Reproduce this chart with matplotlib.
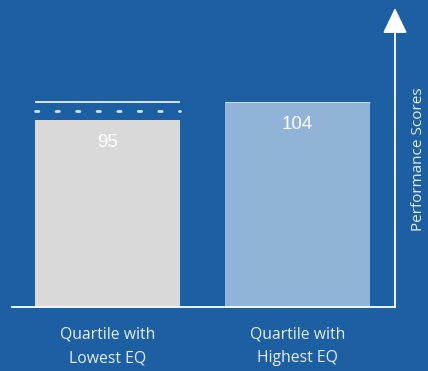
import matplotlib
matplotlib.use("Agg")
import matplotlib.pyplot as plt

categories = ["Quartile with\nLowest EQ", "Quartile with\nHighest EQ"]
values = [95, 104]
bar_colors = ["#D9D9D9", "#92B3D8"]
axis_label = "Performance Scores"

BG = "#1C5FA3"
W, H = 428, 371
fig = plt.figure(figsize=(W / 100, H / 100), dpi=100, facecolor=BG)

# axes spanning baseline x 12..395 px, y bottom at 307 px to top of figure
left_px, right_px, base_px = 12, 395, 307
ax = fig.add_axes([left_px / W, (H - base_px) / H, (right_px - left_px) / W, base_px / H])
ax.set_facecolor(BG)
ax.patch.set_alpha(0)

scale = (base_px - 102) / values[1]  # px per unit
ax.set_ylim(0, base_px / scale)
ax.set_xlim((left_px - 107.5) / 190, (right_px - 107.5) / 190)

bw = 145 / 190
xs = list(range(len(values)))
ax.bar(xs, values, width=bw, color=bar_colors, zorder=2)

# gap markers above the lower bar
ax.hlines(values[1], xs[0] - bw / 2, xs[0] + bw / 2, color="#E8EEF6", lw=1.3, zorder=3)
ax.hlines((values[0] + values[1]) / 2 + 0.0, xs[0] - bw / 2, xs[0] + bw / 2,
          color="#D6E2F0", lw=2.0, linestyles=(0, (1.2, 6.2)), capstyle="round", zorder=3)
# light top edge on higher bar
ax.hlines(values[1], xs[1] - bw / 2, xs[1] + bw / 2, color="#C9D8EA", lw=0.8, zorder=3)

# value labels
for x, v in zip(xs, values):
    ax.text(x, v - 11.6, str(v), ha="center", va="center", color="white",
            fontsize=13.5, family="Liberation Sans", zorder=4)

for s in ["top", "left", "right"]:
    ax.spines[s].set_visible(False)
ax.spines["bottom"].set_color("white")
ax.spines["bottom"].set_linewidth(1.3)
ax.set_yticks([])
ax.set_xticks(xs)
ax.set_xticklabels(categories, color="#E8EEF6", fontsize=11.3, family="Open Sans", linespacing=1.65)
ax.tick_params(axis="x", length=0, pad=14)

# vertical axis with arrow
ax.annotate("", xy=(1, 1 - 8 / base_px), xytext=(1, 0), xycoords="axes fraction",
            arrowprops=dict(arrowstyle="-|>,head_length=1.58,head_width=0.76",
                            mutation_scale=10, color="white", lw=1.3, shrinkA=0, shrinkB=0),
            annotation_clip=False)

fig.text(418 / W, 1 - 159 / H, axis_label, rotation=90, ha="center", va="center",
         color="#E8EEF6", fontsize=11, family="Open Sans")

fig.savefig("out.png", dpi=100, facecolor=BG)
